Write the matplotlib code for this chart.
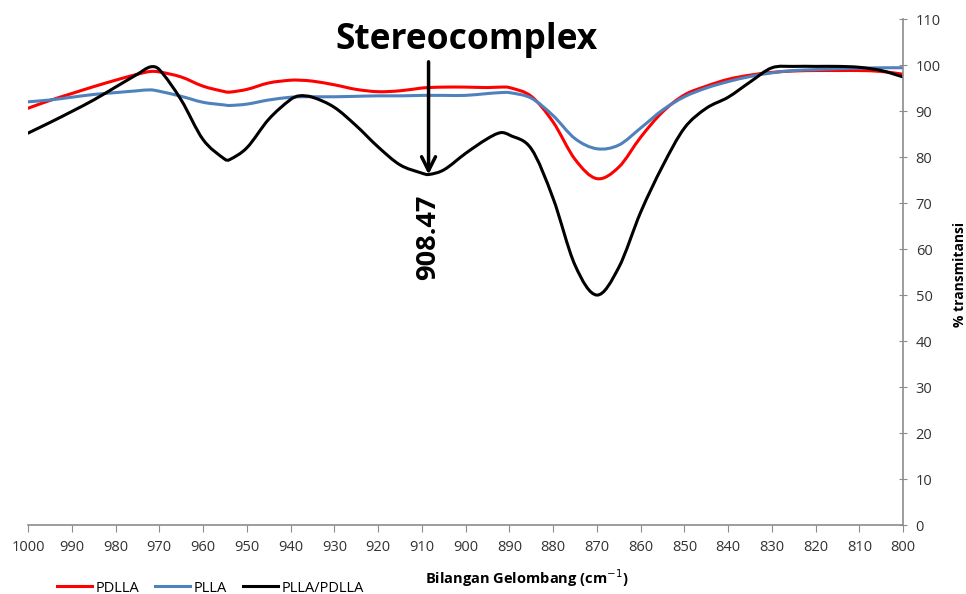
import matplotlib
matplotlib.use('Agg')
import matplotlib.pyplot as plt
from matplotlib.path import Path
from matplotlib.patches import PathPatch
from matplotlib.lines import Line2D

# wavenumbers (cm-1) and % transmittance
wavenumber = [1000, 995, 990, 985, 980, 975, 972, 970, 965, 960, 955, 954, 950,
              945, 940, 938, 935, 930, 925, 920, 915, 910, 908.47, 905, 900,
              895, 892, 890, 885, 880, 875, 870, 865, 860, 855, 850, 845, 840,
              835, 830, 825, 820, 815, 810, 805, 800]

pdlla = [90.6, 92.3, 93.8, 95.3, 96.7, 98.0, 98.6, 98.5, 97.4, 95.4, 94.2, 94.1,
         94.7, 96.1, 96.7, 96.7, 96.5, 95.7, 94.7, 94.2, 94.4, 95.0, 95.1, 95.2,
         95.2, 95.1, 95.2, 95.1, 93.2, 87.6, 79.5, 75.3, 77.8, 84.3, 89.8, 93.5,
         95.4, 96.9, 97.8, 98.4, 98.7, 98.8, 98.8, 98.8, 98.6, 98.0]

plla = [92.0, 92.4, 93.0, 93.6, 94.0, 94.4, 94.6, 94.3, 93.2, 91.9, 91.3, 91.2,
        91.5, 92.4, 93.0, 93.1, 93.1, 93.1, 93.2, 93.3, 93.3, 93.4, 93.4, 93.4,
        93.4, 93.8, 94.0, 94.0, 92.8, 89.0, 84.0, 81.8, 82.6, 86.3, 90.2, 93.1,
        95.0, 96.4, 97.5, 98.3, 98.8, 99.0, 99.2, 99.3, 99.4, 99.4]

blend = [85.2, 87.5, 89.9, 92.4, 95.2, 98.0, 99.6, 99.0, 92.4, 83.8, 79.5, 79.4,
         82.0, 88.2, 92.5, 93.3, 93.0, 90.8, 86.8, 82.2, 78.3, 76.5, 76.2, 77.2,
         80.8, 84.0, 85.3, 84.8, 81.8, 71.0, 56.5, 50.0, 56.0, 68.0, 78.0, 86.3,
         90.6, 93.0, 96.3, 99.4, 99.7, 99.7, 99.7, 99.5, 98.8, 97.4]

peak_x = 908.47
peak_y = 76.2


def smooth_path(xs, ys):
    # smoothed line like excel: cubic bezier through every point
    n = len(xs)
    slopes = []
    for i in range(n):
        a = max(i - 1, 0)
        b = min(i + 1, n - 1)
        slopes.append((ys[b] - ys[a]) / (xs[b] - xs[a]))
    verts = [(xs[0], ys[0])]
    codes = [Path.MOVETO]
    for i in range(n - 1):
        h = xs[i + 1] - xs[i]
        verts.append((xs[i] + h / 3, ys[i] + slopes[i] * h / 3))
        verts.append((xs[i + 1] - h / 3, ys[i + 1] - slopes[i + 1] * h / 3))
        verts.append((xs[i + 1], ys[i + 1]))
        codes += [Path.CURVE4] * 3
    return Path(verts, codes)


plt.rcParams['font.family'] = ['Open Sans', 'DejaVu Sans']

fig = plt.figure(figsize=(9.66, 5.94), dpi=100)
ax = fig.add_axes([0.029, 0.116, 0.906, 0.852])

series = [('PDLLA', pdlla, '#FF0000'),
          ('PLLA', plla, '#4F81BD'),
          ('PLLA/PDLLA', blend, 'black')]
handles = []
for name, vals, col in series:
    ax.add_patch(PathPatch(smooth_path(wavenumber, vals), fill=False,
                           edgecolor=col, lw=2.2, capstyle='round'))
    handles.append(Line2D([], [], color=col, lw=2.2, label=name))

ax.set_xlim(1000, 800)
ax.set_ylim(0, 110)
ax.set_xticks(range(1000, 799, -10))
ax.set_yticks(range(0, 111, 10))

for s in ['top', 'left']:
    ax.spines[s].set_visible(False)
for s in ['bottom', 'right']:
    ax.spines[s].set_color('#8c8c8c')
    ax.spines[s].set_linewidth(1.2)

ax.yaxis.tick_right()
ax.yaxis.set_label_position('right')
ax.tick_params(axis='x', direction='out', length=5, color='#8c8c8c',
               labelsize=10.5, labelcolor='#333333', pad=6)
ax.tick_params(axis='y', direction='inout', length=6, color='#8c8c8c',
               labelsize=10.5, labelcolor='#333333', pad=6)

ax.set_xlabel('Bilangan Gelombang (cm$^{-1}$)', fontsize=10.5, fontweight='bold',
              ha='center', va='center')
ax.xaxis.set_label_coords(0.570, -0.105)
ax.set_ylabel('% transmitansi', fontsize=10, fontweight='bold',
              ha='center', va='center')
ax.yaxis.set_label_coords(1.065, 0.496)

# stereocomplex annotation
ax.annotate('', xy=(peak_x, peak_y), xytext=(peak_x, 100.7),
            arrowprops=dict(arrowstyle='->', lw=2.5, color='black',
                            mutation_scale=25, shrinkA=0, shrinkB=0))
ax.text(899.8, 105.4, 'Stereocomplex', fontsize=25.5, fontweight='bold',
        ha='center', va='center')
ax.text(peak_x, 62.6, '908.47', fontsize=19.5, fontweight='bold', rotation=90,
        ha='center', va='center')

fig.legend(handles=handles, loc='center left', bbox_to_anchor=(0.059, 0.01),
           ncol=3, frameon=False, fontsize=10.5, handlelength=2.4,
           columnspacing=1.1, handletextpad=0.25, borderaxespad=0, borderpad=0)

fig.savefig('out.png', dpi=100)
